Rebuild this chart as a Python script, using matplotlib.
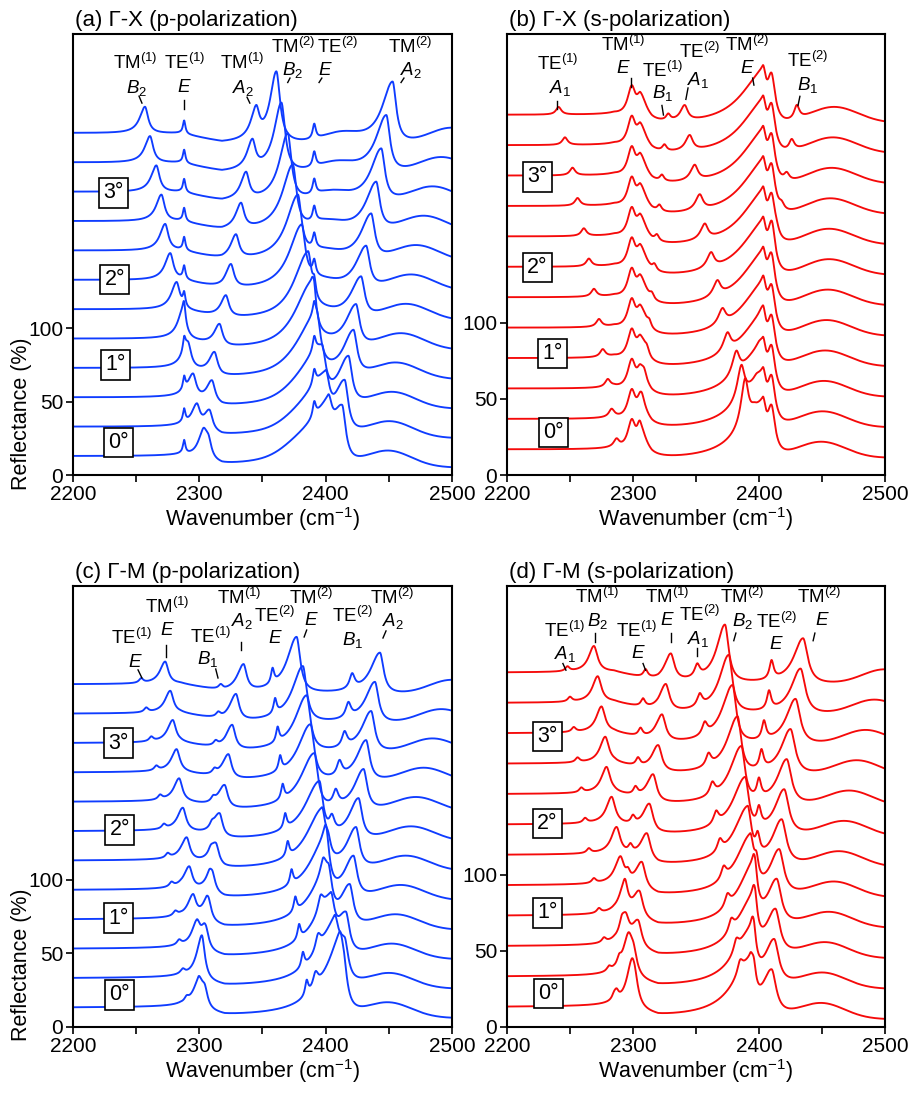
import numpy as np
import matplotlib
matplotlib.use('Agg')
import matplotlib.pyplot as plt

plt.rcParams['font.family'] = ['Liberation Sans', 'DejaVu Sans']
plt.rcParams['mathtext.fontset'] = 'custom'
plt.rcParams['mathtext.rm'] = 'Liberation Sans'
plt.rcParams['mathtext.it'] = 'Liberation Sans:italic'
plt.rcParams['mathtext.bf'] = 'Liberation Sans:bold'

# ---- data ---------------------------------------------------------------
# 12 spectra per panel, bottom (0 deg) to top; each spectrum offset by 20 %
N_CURVES = 12
OFFSET = 20.0
ANGLE_LABELS = ['0°', '1°', '2°', '3°']

# (a) Gamma-X, p-polarization : background knots and mode positions (cm-1)
A_BASE_WN = [2200, 2285, 2318, 2500]
A_BASE_R = [12.5, 12, 5.5, 5]
A_TE1_E = [2288] * 12
A_TM1_B2 = [2303, 2298, 2295, 2291, 2287, 2282, 2277, 2273, 2270, 2266, 2261, 2257]
A_TM1_B2_H = [13, 15, 16, 17, 18, 18, 18, 18, 18, 18, 18, 18]
A_TM1_A2 = [2307, 2308, 2310, 2312, 2316, 2321, 2325, 2329, 2333, 2337, 2342, 2345]
A_TM1_A2_H = [14, 14, 15, 15, 15, 15, 16, 16, 17, 18, 19, 20]
A_TM2_B2 = [2402, 2400, 2397, 2393, 2389, 2386, 2381, 2378, 2374, 2370, 2365, 2361]
A_TM2_B2_H = [30, 32, 33, 35, 37, 39, 40, 42, 44, 46, 47, 48]
A_TM2_B2_WL = [22, 20, 19, 17, 15, 13, 12, 11, 10, 8, 7, 6]
A_TE2_E = [2391] * 12
A_TM2_A2 = [2413, 2415, 2418, 2422, 2424, 2428, 2432, 2436, 2440, 2444, 2448, 2453]
A_TM2_A2_H = [38, 36, 33, 31, 29, 28, 29, 31, 33, 36, 39, 42]
A_FRINGE = [2450, 2451, 2453, 2456, 2460, 2464, 2468, 2472, 2478, 2485, 2492, 2500]
A_FRINGE2 = [2380, 2382, 2384, 2386, 2388, 2391, 2394, 2397, 2400, 2404, 2408, 2412]

# (b) Gamma-X, s-polarization
B_BASE_WN = [2200, 2285, 2315, 2420, 2500]
B_BASE_R = [16.5, 16, 9, 8.5, 11]
B_TE1_A1 = [2287, 2283, 2280, 2276, 2273, 2269, 2265, 2261, 2256, 2252, 2246, 2241]
B_TM1_E1 = [2299] * 12
B_TM1_E2 = [2306] * 12
B_TE1_B1 = [2305, 2307, 2309, 2311, 2313, 2315, 2317, 2319, 2321, 2323, 2325, 2328]
B_TE2_A1 = [2389, 2386, 2382, 2375, 2371, 2367, 2362, 2357, 2353, 2349, 2345, 2341]
B_TE2_A1_H = [30, 22, 15, 12, 10, 10, 10, 10, 10, 10, 10, 10]
B_TM2_E1 = [2403] * 12
B_TM2_E2 = [2410] * 12
B_TE2_B1 = [2396, 2398, 2400, 2402, 2405, 2408, 2411, 2414, 2418, 2422, 2426, 2430]
B_TE2_B1_H = [2, 2, 2, 2, 2, 2, 3, 3, 4, 5, 7, 9]
B_FRINGE = [2449, 2450, 2451, 2452, 2453, 2454, 2455, 2455, 2456, 2457, 2458, 2459]

# (c) Gamma-M, p-polarization
C_BASE_WN = [2200, 2285, 2320, 2500]
C_BASE_R = [13, 13, 7, 6]
C_TE1_E = [2290, 2287, 2284, 2281, 2278, 2275, 2272, 2269, 2266, 2262, 2258, 2254]
C_TM1_E = [2304, 2302, 2298, 2295, 2292, 2290, 2287, 2284, 2282, 2279, 2277, 2273]
C_TE1_B1 = [2300, 2302, 2304, 2306, 2308, 2309, 2310, 2311, 2312, 2313, 2315, 2317]
C_TM1_A2 = [2299, 2302, 2305, 2307, 2310, 2313, 2316, 2320, 2323, 2326, 2329, 2335]
C_TM1_A2_H = [12, 13, 14, 15, 15, 15, 16, 16, 17, 17, 18, 18]
C_TE2_E = [2385, 2382, 2379, 2376, 2373, 2370, 2368, 2366, 2364, 2362, 2360, 2358]
C_TM2_E = [2411, 2407, 2404, 2402, 2400, 2397, 2395, 2391, 2388, 2385, 2382, 2377]
C_TM2_E_H = [32, 33, 34, 36, 37, 38, 38, 38, 38, 38, 38, 38]
C_TM2_E_WL = [20, 19, 18, 17, 16, 15, 14, 13, 12, 11, 10, 9]
C_TE2_B1 = [2392, 2394, 2396, 2398, 2400, 2402, 2405, 2408, 2411, 2415, 2418, 2421]
C_TM2_A2 = [2414, 2415, 2416, 2419, 2422, 2424, 2426, 2430, 2432, 2436, 2439, 2443]
C_FRINGE = [2450, 2451, 2453, 2456, 2460, 2464, 2468, 2472, 2478, 2485, 2492, 2500]

# (d) Gamma-M, s-polarization
D_BASE_WN = [2200, 2285, 2320, 2500]
D_BASE_R = [13, 13, 6, 5]
D_TE1_A1 = [2285, 2281, 2277, 2273, 2269, 2265, 2262, 2259, 2256, 2253, 2250, 2248]
D_TM1_B2 = [2299, 2296, 2294, 2293, 2290, 2287, 2283, 2279, 2278, 2275, 2272, 2269]
D_TE1_E = [2287, 2289, 2291, 2294, 2296, 2298, 2300, 2302, 2304, 2306, 2308, 2310]
D_TM1_E = [2301, 2300, 2304, 2305, 2307, 2311, 2313, 2316, 2320, 2323, 2326, 2330]
D_TE2_A1 = [2385, 2382, 2378, 2375, 2372, 2369, 2366, 2363, 2360, 2357, 2353, 2351]
D_TM2_B2 = [2393, 2394, 2395, 2395, 2393, 2391, 2389, 2386, 2383, 2379, 2376, 2373]
D_TM2_B2_H = [32, 33, 34, 35, 36, 36, 36, 37, 37, 38, 38, 38]
D_TM2_B2_WL = [18, 17, 16, 15, 14, 13, 12, 11, 10, 10, 9, 8]
D_TE2_E = [2396, 2396, 2397, 2397, 2398, 2399, 2400, 2400, 2402, 2404, 2408, 2410]
D_TM2_E = [2410, 2412, 2413, 2414, 2416, 2418, 2420, 2422, 2425, 2429, 2433, 2435]
D_FRINGE = [2450, 2451, 2453, 2456, 2460, 2464, 2468, 2472, 2478, 2485, 2492, 2500]

WN = np.linspace(2200, 2500, 1501)


def at(v, i):
    return v[i] if isinstance(v, (list, tuple)) else v


def peak(x, x0, h, wl, wr):
    w = np.where(x < x0, wl, wr)
    return h / (1.0 + ((x - x0) / w) ** 2)


def bump(x, x0, h, s):
    return h * np.exp(-0.5 * ((x - x0) / s) ** 2)


def draw_spectra(ax, base_wn, base_r, tracks, fringes, color):
    for i in range(N_CURVES):
        y = OFFSET * i + np.interp(WN, base_wn, base_r)
        for pos, h, wl, wr in tracks:
            y = y + peak(WN, pos[i], at(h, i), at(wl, i), at(wr, i))
        for pos, h, s in fringes:
            y = y + bump(WN, pos[i], h, s)
        ax.plot(WN, y, color=color, lw=1.35)


def mode(name, n):
    return name + r'$^{(' + str(n) + r')}$'


def sym(letter, n=None):
    if n is None:
        return r'$\mathit{' + letter + '}$'
    return r'$\mathit{' + letter + r'}_{\mathit{' + str(n) + '}}$'


def style_axes(ax, ylim, title, ylabel=True):
    ax.set_xlim(2200, 2500)
    ax.set_ylim(0, ylim)
    ax.set_xticks([2200, 2250, 2300, 2350, 2400, 2450, 2500])
    ax.set_xticklabels(['2200', '', '2300', '', '2400', '', '2500'])
    ax.set_yticks([0, 50, 100])
    ax.tick_params(direction='out', length=5, width=1.2, labelsize=15, pad=2)
    for s in ax.spines.values():
        s.set_linewidth(1.5)
    ax.set_xlabel('Wavenumber (cm$^{-1}$)', fontsize=15.5, labelpad=1)
    if ylabel:
        ax.set_ylabel('Reflectance (%)', fontsize=15.5)
        ax.yaxis.set_label_coords(-0.108, 0.14)
    ax.set_title(title, loc='left', fontsize=16, pad=6, x=0.005)


def annotate(ax, labels):
    for top, bottom, x1, y1, x2, y2, tick in labels:
        ax.text(x1, y1, top, ha='center', va='center', fontsize=13.5)
        ax.text(x2, y2, bottom, ha='center', va='center', fontsize=13.5)
        if tick is not None:
            ax.plot(tick[0], tick[1], color='k', lw=1.0)


def angle_boxes(ax, positions):
    for lab, (x, y) in zip(ANGLE_LABELS, positions):
        ax.text(x, y, lab, ha='center', va='center', fontsize=15.5,
                bbox=dict(boxstyle='square,pad=0.2', fc='white', ec='k', lw=1.2))


fig = plt.figure(figsize=(9.11, 10.93), dpi=100)
ax_a = fig.add_axes([0.0801, 0.5654, 0.4160, 0.4035])
ax_b = fig.add_axes([0.5565, 0.5654, 0.4149, 0.4035])
ax_c = fig.add_axes([0.0801, 0.0604, 0.4160, 0.4035])
ax_d = fig.add_axes([0.5565, 0.0604, 0.4149, 0.4035])

BLUE = '#0f3cff'
RED = '#f50a0a'

# (a)
draw_spectra(ax_a, A_BASE_WN, A_BASE_R, [
    (A_TE1_E, 9, 1.2, 1.2),
    (A_TM1_B2, A_TM1_B2_H, 5, 3),
    (A_TM1_A2, A_TM1_A2_H, 5, 3),
    (A_TM2_B2, A_TM2_B2_H, A_TM2_B2_WL, 3.5),
    (A_TE2_E, 10, 1.5, 1.5),
    (A_TM2_A2, A_TM2_A2_H, 10, 3.5),
], [(A_FRINGE, 11, 18), (A_FRINGE2, 6, 14)], BLUE)
style_axes(ax_a, 300, '(a) Γ-X (p-polarization)')
annotate(ax_a, [
    (mode('TM', 1), sym('B', 2), 2249, 280, 2250, 263.5, ([2252.3, 2254.6], [257.7, 253])),
    (mode('TE', 1), sym('E'), 2288.7, 280, 2288, 263.5, ([2288, 2288], [255, 248.8])),
    (mode('TM', 1), sym('A', 2), 2333.8, 280, 2334.6, 263.5, ([2337.8, 2340], [257, 253])),
    (mode('TM', 2), sym('B', 2), 2374, 291.5, 2374, 275.5, ([2371.8, 2370], [270, 267])),
    (mode('TE', 2), sym('E'), 2409.8, 291.5, 2399.5, 275.5, ([2397, 2394.8], [270, 267])),
    (mode('TM', 2), sym('A', 2), 2466.8, 291.5, 2467.6, 275.5, ([2462, 2459.7], [270, 267])),
])
angle_boxes(ax_a, [(2236, 22), (2234, 75), (2233, 133), (2232, 192)])

# (b)
draw_spectra(ax_b, B_BASE_WN, B_BASE_R, [
    (B_TE1_A1, 5, 2.5, 2.5),
    (B_TM1_E1, 19, 4, 3.5),
    (B_TM1_E2, 15, 3.5, 6),
    (B_TE1_B1, 4, 2, 2),
    (B_TE2_A1, B_TE2_A1_H, 4, 3),
    (B_TM2_E1, 33, 22, 3),
    (B_TM2_E2, 30, 4, 3.5),
    (B_TE2_B1, B_TE2_B1_H, 2.5, 2.5),
], [(B_FRINGE, 12, 20)], RED)
style_axes(ax_b, 290, '(b) Γ-X (s-polarization)', ylabel=False)
annotate(ax_b, [
    (mode('TE', 1), sym('A', 1), 2240.5, 270.5, 2242, 254.5, ([2239.7, 2239.7], [246, 240.6])),
    (mode('TM', 1), sym('E'), 2292, 282.5, 2292, 267.5, ([2298.4, 2298.4], [261, 255])),
    (mode('TE', 1), sym('B', 1), 2323.8, 266, 2323.8, 251.5, ([2323, 2324.2], [243, 236.7])),
    (mode('TE', 2), sym('A', 1), 2353, 278, 2351.6, 260, ([2343.7, 2342], [254.5, 247])),
    (mode('TM', 2), sym('E'), 2391, 282.5, 2391, 267.5, ([2395, 2396], [261, 256.4])),
    (mode('TE', 2), sym('B', 1), 2439, 272, 2439, 256.5, ([2432.5, 2431], [249, 243])),
])
angle_boxes(ax_b, [(2237, 28), (2236, 80), (2224, 136.5), (2224, 196)])

# (c)
draw_spectra(ax_c, C_BASE_WN, C_BASE_R, [
    (C_TE1_E, 3, 2, 2),
    (C_TM1_E, 15, 5, 3),
    (C_TE1_B1, 3, 2, 2),
    (C_TM1_A2, C_TM1_A2_H, 6, 3),
    (C_TE2_E, 10, 1.5, 1.5),
    (C_TM2_E, C_TM2_E_H, C_TM2_E_WL, 3.5),
    (C_TE2_B1, 10, 2.5, 2.5),
    (C_TM2_A2, 28, 9, 3.5),
], [(C_FRINGE, 10, 18)], BLUE)
style_axes(ax_c, 300, '(c) Γ-M (p-polarization)')
annotate(ax_c, [
    (mode('TE', 1), sym('E'), 2246.7, 264.5, 2249, 248, ([2251.5, 2254.6], [242.9, 237.4])),
    (mode('TM', 1), sym('E'), 2274.4, 285.5, 2274.4, 269.5, ([2273.6, 2273.6], [259.9, 251.7])),
    (mode('TE', 1), sym('B', 1), 2309, 265, 2307, 250.5, ([2313, 2314.8], [243.5, 237.4])),
    (mode('TM', 1), sym('A', 2), 2332, 292, 2333.8, 276.5, ([2333, 2333], [261.9, 256.5])),
    (mode('TE', 2), sym('E'), 2360, 279.5, 2360, 264, None),
    (mode('TM', 2), sym('E'), 2389, 292, 2389, 276.5, ([2385, 2383], [270, 265.3])),
    (mode('TE', 2), sym('B', 1), 2421.7, 279.5, 2421, 263, None),
    (mode('TM', 2), sym('A', 2), 2453, 292, 2453, 276.5, ([2447.8, 2445.4], [269.4, 264.6])),
])
angle_boxes(ax_c, [(2237, 21.8), (2236, 74), (2237, 134), (2236, 193)])

# (d)
draw_spectra(ax_d, D_BASE_WN, D_BASE_R, [
    (D_TE1_A1, 3, 2, 2),
    (D_TM1_B2, 17, 5, 3.5),
    (D_TE1_E, 5, 2, 2),
    (D_TM1_E, 18, 6, 3.5),
    (D_TE2_A1, 8, 2.5, 2.5),
    (D_TM2_B2, D_TM2_B2_H, D_TM2_B2_WL, 3.5),
    (D_TE2_E, 12, 2, 2),
    (D_TM2_E, 30, 9, 4.5),
], [(D_FRINGE, 10, 18)], RED)
style_axes(ax_d, 290, '(d) Γ-M (s-polarization)', ylabel=False)
annotate(ax_d, [
    (mode('TE', 1), sym('A', 1), 2246, 260.5, 2246, 245.5, ([2244.4, 2246.8], [239, 234.6])),
    (mode('TM', 1), sym('B', 2), 2272, 283, 2272, 267, ([2270, 2270], [259, 253])),
    (mode('TE', 1), sym('E'), 2303, 260.5, 2304, 245.5, ([2308, 2310], [239, 234.6])),
    (mode('TM', 1), sym('E'), 2327, 283, 2327, 267, ([2330, 2330], [259, 253])),
    (mode('TE', 2), sym('A', 1), 2353, 271, 2351.6, 255, ([2350.8, 2350.8], [249, 243.7])),
    (mode('TM', 2), sym('B', 2), 2387, 283, 2387, 267, ([2381.7, 2380], [259, 254])),
    (mode('TE', 2), sym('E'), 2414, 266.5, 2414, 251.5, None),
    (mode('TM', 2), sym('E'), 2448, 283, 2450, 267, ([2444.4, 2443], [259, 254])),
])
angle_boxes(ax_d, [(2233, 22), (2232, 75), (2232, 133.7), (2232, 191)])

fig.savefig('out.png', dpi=100)
